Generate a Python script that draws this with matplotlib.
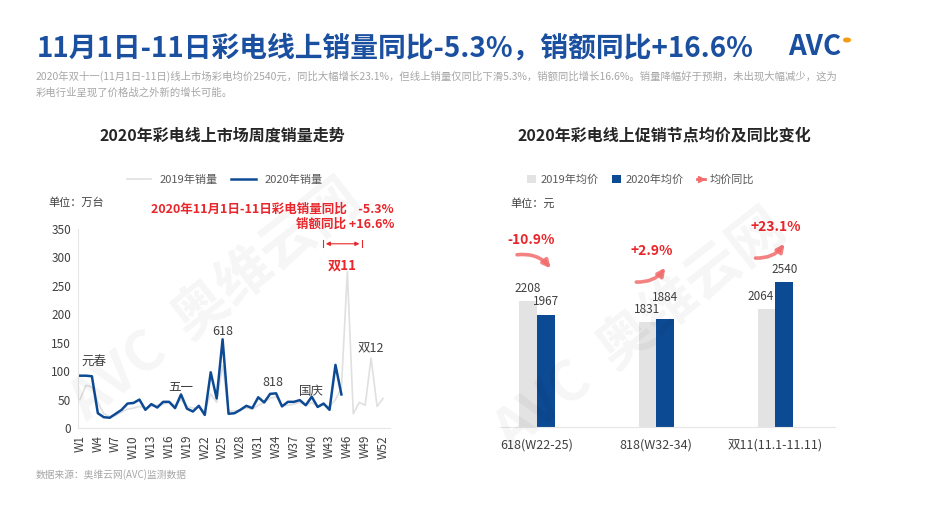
import matplotlib
matplotlib.use("Agg")
import matplotlib.pyplot as plt
from matplotlib.patches import FancyArrowPatch, Circle

plt.rcParams["font.family"] = ["Noto Sans CJK SC", "DejaVu Sans"]

# ---------------------------------------------------------------------------
# Data
# ---------------------------------------------------------------------------
weeks = list(range(1, 53))
sales_2019 = [50, 75, 72, 45, 25, 20, 22, 28, 33, 35, 38, 35, 38, 40, 42, 45,
              40, 50, 38, 35, 36, 30, 60, 45, 110, 30, 30, 32, 35, 33, 40, 45,
              52, 55, 40, 40, 42, 45, 40, 45, 38, 40, 38, 50, 70, 275, 25, 45,
              40, 123, 38, 52]
sales_2020 = [92, 92, 91, 26, 19, 18, 25, 32, 43, 44, 50, 32, 42, 36, 46, 46,
              35, 59, 34, 29, 39, 23, 98, 52, 156, 25, 26, 32, 39, 35, 54, 45,
              60, 61, 38, 46, 46, 49, 40, 55, 37, 43, 32, 111, 59]
tick_weeks = list(range(1, 53, 3))
tick_labels = [f"W{w}" for w in tick_weeks]

events = ["元春", "五一", "618", "818", "国庆", "双12"]
event_week = [1.2, 18, 25, 33.5, 40, 50]
event_value = [116, 72, 170, 80, 65, 140]

nodes = ["618(W22-25)", "818(W32-34)", "双11(11.1-11.11)"]
price_2019 = [2208, 1831, 2064]
price_2020 = [1967, 1884, 2540]
price_yoy = ["-10.9%", "+2.9%", "+23.1%"]

BLUE = "#0d4a94"
GRAY = "#e3e3e3"
RED = "#e8262b"
ARROW = "#f26d6d"
TXT = "#404040"

W, H = 944, 513
fig = plt.figure(figsize=(W / 100, H / 100), dpi=100)


def fx(px):
    return px / W


def fy(py):
    return 1 - py / H


# ---------------------------------------------------------------------------
# Header
# ---------------------------------------------------------------------------
fig.text(fx(37), fy(48), "11月1日-11日彩电线上销量同比-5.3%，销额同比+16.6%",
         fontsize=20, fontweight="bold", color="#1b4fa0", va="center")
fig.text(fx(788), fy(47), "AVC", fontsize=20, fontweight="bold",
         color="#1b4fa0", va="center")
fig.patches.append(Circle((fx(847), fy(40)), 0.0035, transform=fig.transFigure,
                          color="#f39c12"))
fig.text(fx(36), fy(76),
         "2020年双十一(11月1日-11日)线上市场彩电均价2540元，同比大幅增长23.1%，"
         "但线上销量仅同比下滑5.3%，销额同比增长16.6%。销量降幅好于预期，未出现大幅减少，这为",
         fontsize=7.45, color="#a6a6a6", va="center")
fig.text(fx(36), fy(92), "彩电行业呈现了价格战之外新的增长可能。",
         fontsize=7.45, color="#a6a6a6", va="center")

# faint watermarks
for cx, cy in [(215, 300), (640, 330)]:
    fig.text(fx(cx), fy(cy), "AVC  奥维云网", fontsize=40, fontweight="bold",
             color="#000000", alpha=0.04, rotation=38, ha="center", va="center")

# ---------------------------------------------------------------------------
# Left: weekly sales line chart
# ---------------------------------------------------------------------------
ax = fig.add_axes([fx(78), fy(428), fx(390) - fx(78), fy(229) - fy(428)])
ax.plot(weeks, sales_2019, color="#e0e0e0", lw=1.2, label="2019年销量")
ax.plot(weeks[:len(sales_2020)], sales_2020, color=BLUE, lw=1.8,
        label="2020年销量")
ax.set_xlim(0.66, 53.18)
ax.set_ylim(0, 350)
ax.set_yticks(range(0, 351, 50))
ax.set_xticks(tick_weeks)
ax.set_xticklabels(tick_labels, rotation=90)
ax.tick_params(length=0, labelsize=8.5, colors=TXT, pad=5)
for s in ("top", "right"):
    ax.spines[s].set_visible(False)
for s in ("left", "bottom"):
    ax.spines[s].set_color("#e6e6e6")
for name, wk, val in zip(events, event_week, event_value):
    ax.text(wk, val, name, fontsize=9, color=TXT, ha="left" if wk < 2 else "center",
            va="center")

ax.legend(loc="lower center", bbox_to_anchor=(0.47, 1.17), ncol=2, frameon=False,
          fontsize=8, labelcolor="#595959", handlelength=2.2, columnspacing=1.2)

fig.text(fx(48), fy(203), "单位：万台", fontsize=8, color=TXT, va="center")
fig.text(fx(394), fy(209), "2020年11月1日-11日彩电销量同比    -5.3%",
         fontsize=9, fontweight="bold", color=RED, ha="right", va="center")
fig.text(fx(394), fy(224), "销额同比 +16.6%",
         fontsize=9, fontweight="bold", color=RED, ha="right", va="center")
ax.annotate("", xy=(48.5, 324), xytext=(41.9, 324),
            arrowprops=dict(arrowstyle="<|-|>", color=RED, lw=0.8,
                            mutation_scale=6), annotation_clip=False)
for wk in (41.9, 48.5):
    ax.plot([wk, wk], [318, 330], color=RED, lw=0.8, clip_on=False)
ax.text(45.2, 285, "双11", fontsize=9.5, fontweight="bold", color=RED,
        ha="center", va="center")

fig.text(fx(222), fy(136), "2020年彩电线上市场周度销量走势", fontsize=11.5,
         fontweight="bold", color="#262626", ha="center", va="center")
fig.text(fx(36), fy(475), "数据来源：奥维云网(AVC)监测数据", fontsize=7,
         color="#a6a6a6", va="center")

# ---------------------------------------------------------------------------
# Right: promotion price bar chart
# ---------------------------------------------------------------------------
bx = fig.add_axes([fx(500), fy(427), fx(835) - fx(500), fy(210) - fy(427)])
pos = list(range(len(nodes)))
bw = 0.148
bx.bar([p - bw / 2 for p in pos], price_2019, bw, color=GRAY, label="2019年均价")
bx.bar([p + bw / 2 for p in pos], price_2020, bw, color=BLUE, label="2020年均价")
bx.set_xlim(-0.31, 2.5)
bx.set_ylim(0, 3800)
bx.set_yticks([])
bx.set_xticks(pos)
bx.set_xticklabels(nodes)
bx.tick_params(length=0, labelsize=9, colors=TXT, pad=8)
for s in ("top", "right", "left"):
    bx.spines[s].set_visible(False)
bx.spines["bottom"].set_color("#e6e6e6")

# value labels; a couple are nudged so they clear their neighbours
lift_2020 = [0, 160, 0]
shift_2019 = [0, 0, -0.05]
for p, a, b, up, dx in zip(pos, price_2019, price_2020, lift_2020, shift_2019):
    bx.text(p - bw * 0.5 + dx, a + 110, str(a), fontsize=8.5, color=TXT,
            ha="center", va="bottom")
    bx.text(p + bw * 0.5, b + 110 + up, str(b), fontsize=8.5, color=TXT,
            ha="center", va="bottom")

# growth labels and curved arrows
label_y = [3270, 3080, 3500]
label_dx = [-0.05, -0.04, 0.0]
for p, txt, ly, dx in zip(pos, price_yoy, label_y, label_dx):
    bx.text(p + dx, ly, txt, fontsize=10, fontweight="bold", color=RED,
            ha="center", va="center")
    if txt.startswith("-"):
        start, end, rad = (p - 0.19, ly - 260), (p + 0.13, ly - 530), -0.3
    else:
        start, end, rad = (p - 0.19, ly - 540), (p + 0.09, ly - 250), 0.3
    bx.add_patch(FancyArrowPatch(start, end, connectionstyle=f"arc3,rad={rad}",
                                 arrowstyle="-|>", mutation_scale=11, lw=2.6,
                                 color=ARROW, alpha=0.85))

# legend
h1, l1 = bx.get_legend_handles_labels()
arrow_proxy = plt.Line2D([], [], color=ARROW, lw=2, marker=">", markersize=4,
                         markevery=[1])
bx.legend(h1 + [arrow_proxy], l1 + ["均价同比"], loc="lower center",
          bbox_to_anchor=(0.42, 1.07), ncol=3, frameon=False, fontsize=8,
          labelcolor="#595959", handlelength=0.8, handleheight=0.8,
          columnspacing=1.2, handletextpad=0.4)
fig.text(fx(510), fy(203), "单位：元", fontsize=8, color=TXT, va="center")
fig.text(fx(664), fy(136), "2020年彩电线上促销节点均价及同比变化", fontsize=11.5,
         fontweight="bold", color="#262626", ha="center", va="center")

fig.savefig("out.png", dpi=100)
